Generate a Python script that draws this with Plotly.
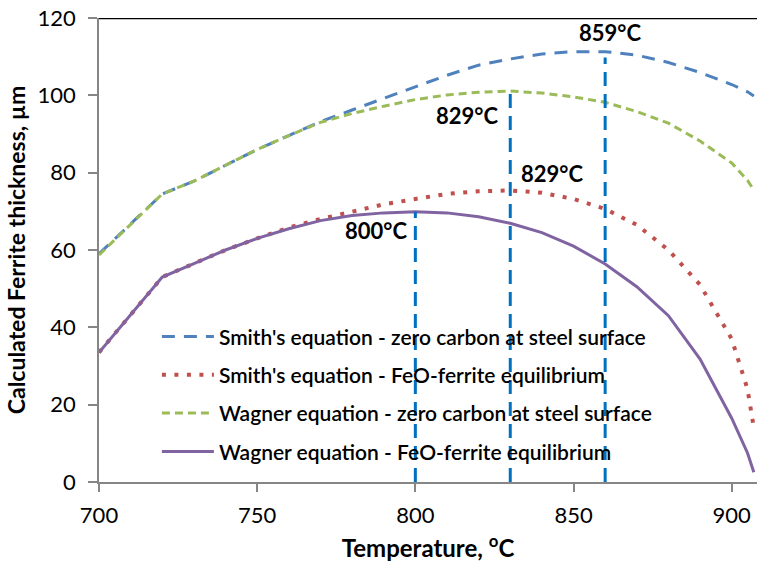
import plotly.graph_objects as go

temps = [700, 720, 730, 740, 750, 760, 770, 780, 790, 800, 810, 820, 830, 840, 850, 860, 870, 880, 890, 900, 905, 907]

smith_zero = [59.0, 74.5, 77.8, 82.0, 86.0, 89.6, 93.2, 96.2, 99.2, 102.2, 105.2, 107.8, 109.4, 110.7, 111.3, 111.3, 110.4, 108.5, 105.9, 102.8, 100.9, 99.8]
smith_feo = [33.5, 53.0, 56.5, 60.0, 63.0, 65.8, 68.0, 70.0, 71.8, 73.2, 74.5, 75.2, 75.4, 74.8, 73.2, 70.6, 66.5, 60.0, 51.0, 37.0, 24.0, 14.0]
wagner_zero = [58.7, 74.5, 77.8, 82.0, 86.0, 89.6, 93.0, 95.3, 97.2, 98.9, 100.1, 100.8, 101.1, 100.6, 99.6, 98.2, 95.8, 92.8, 88.2, 82.5, 78.0, 75.5]
wagner_feo = [33.5, 53.0, 56.5, 60.0, 63.0, 65.5, 67.6, 68.9, 69.6, 69.9, 69.6, 68.6, 66.9, 64.5, 61.0, 56.4, 50.5, 43.0, 31.8, 16.5, 7.5, 2.5]

series_names = [
    "Smith's equation - zero carbon at steel surface",
    "Smith's equation - FeO-ferrite equilibrium",
    "Wagner equation - zero carbon at steel surface",
    "Wagner equation - FeO-ferrite equilibrium",
]

peak_temps = [800, 830, 860]
peak_tops = [69.9, 101.3, 109.8]
peak_labels = ["800°C", "829°C", "829°C", "859°C"]
label_x = [787.7, 816.3, 843.2, 861.5]
label_y = [65.0, 94.9, 79.9, 116.3]

fig = go.Figure()

styles = [
    dict(color="#4F81BD", width=3, dash="13px,9px"),
    dict(color="#C0504D", width=4, dash="4px,8.5px"),
    dict(color="#9BBB59", width=3, dash="8px,5px"),
    dict(color="#8064A2", width=3, dash="solid"),
]
values = [smith_zero, smith_feo, wagner_zero, wagner_feo]

for i, (name, vals, st) in enumerate(zip(series_names, values, styles)):
    fig.add_trace(go.Scatter(
        x=temps, y=vals, mode="lines", name=name, line=st,
        legendgroup=f"g{i}", legendrank=i + 1,
    ))

for t, top in zip(peak_temps, peak_tops):
    fig.add_trace(go.Scatter(
        x=[t, t], y=[0, top], mode="lines", showlegend=False,
        line=dict(color="#0070C0", width=3, dash="14px,8px"),
        hoverinfo="skip",
    ))

for txt, lx, ly in zip(peak_labels, label_x, label_y):
    fig.add_annotation(x=lx, y=ly, text=f"<b>{txt}</b>", showarrow=False,
                       font=dict(family="Lato", size=22, color="black"))

fig.add_shape(type="line", xref="paper", yref="y", x0=0, x1=1, y0=120, y1=120,
              line=dict(color="black", width=2.5))

fig.update_layout(
    width=757, height=563,
    margin=dict(l=99, r=0, t=18, b=81),
    plot_bgcolor="white", paper_bgcolor="white",
    font=dict(family="Lato", color="black"),
    showlegend=True,
    legend=dict(
        x=0.088, y=0.357, xanchor="left", yanchor="top",
        bgcolor="rgba(0,0,0,0)", font=dict(size=21, family="Lato", weight=600),
        traceorder="grouped", tracegroupgap=8, itemwidth=52,
    ),
    xaxis=dict(
        range=[700, 908], tickvals=[700, 750, 800, 850, 900],
        ticks="outside", ticklen=8, tickcolor="#868686", tickwidth=1.5,
        showline=True, linecolor="#868686", linewidth=1.5,
        showgrid=False, zeroline=False,
        tickfont=dict(size=22, family="Lato"),
        ticklabelstandoff=5,
        title=dict(text="<b>Temperature, <sup>o</sup>C</b>", font=dict(size=24, family="Lato"), standoff=13),
    ),
    yaxis=dict(
        range=[0, 120], tickvals=[0, 20, 40, 60, 80, 100, 120],
        ticks="outside", ticklen=9, tickcolor="#868686", tickwidth=1.5,
        showline=True, linecolor="#868686", linewidth=1.5,
        showgrid=False, zeroline=False,
        tickfont=dict(size=22, family="Lato"),
        ticklabelstandoff=8,
        title=dict(text="<b>Calculated Ferrite thickness, µm</b>", font=dict(size=23, family="Lato"), standoff=6),
    ),
)

fig.write_html("out.html")
